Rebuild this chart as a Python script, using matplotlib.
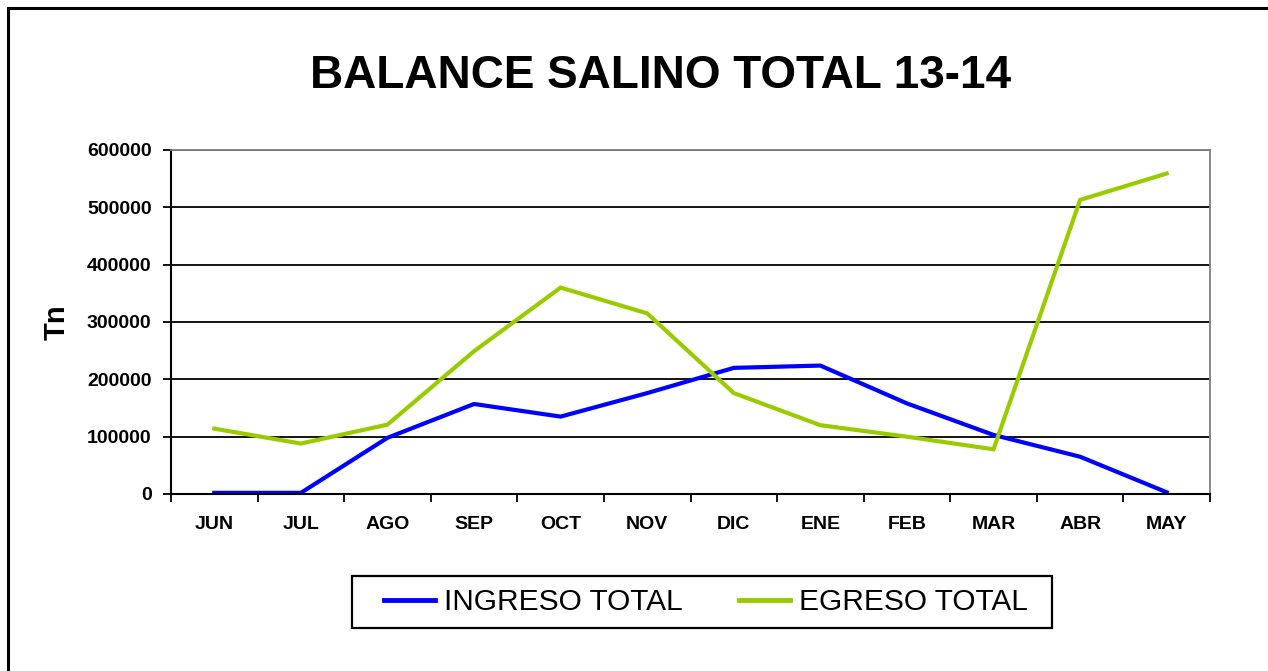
import numpy as np
import matplotlib
matplotlib.use("Agg")
import matplotlib.pyplot as plt
from matplotlib.patches import Rectangle

# datos
meses = ['JUN', 'JUL', 'AGO', 'SEP', 'OCT', 'NOV', 'DIC', 'ENE', 'FEB', 'MAR', 'ABR', 'MAY']
ingreso = [2000, 2000, 98000, 157000, 135000, 176000, 220000, 224000, 158000, 103000, 65000, 3000]
egreso = [114000, 88000, 121000, 249000, 360000, 315000, 176000, 120000, 100000, 78000, 513000, 559000]
yticks = [0, 100000, 200000, 300000, 400000, 500000, 600000]

plt.rcParams['font.family'] = ['Liberation Sans', 'DejaVu Sans']

W, H = 1268, 671
fig = plt.figure(figsize=(W / 100, H / 100), dpi=100)
ax = fig.add_axes([171 / W, 1 - 494 / H, (1210 - 171) / W, (494 - 150) / H])

x = np.arange(len(meses))
ax.plot(x, ingreso, color='#0000FF', lw=3, label='INGRESO TOTAL', solid_joinstyle='miter')
ax.plot(x, egreso, color='#99CC00', lw=3, label='EGRESO TOTAL', solid_joinstyle='miter')

ax.set_xlim(-0.5, len(meses) - 0.5)
ax.set_ylim(0, 600000)
ax.set_yticks(yticks)
ax.set_yticklabels([str(v) for v in yticks], fontsize=14, fontweight='bold')
ax.yaxis.grid(True, color='black', lw=1.3)
ax.set_axisbelow(True)

# ticks del eje x en los limites de categoria, etiquetas al centro
ax.set_xticks(np.arange(-0.5, len(meses), 1))
ax.set_xticklabels([])
ax.set_xticks(x, minor=True)
ax.set_xticklabels(meses, minor=True, fontsize=14, fontweight='bold')
ax.tick_params(axis='x', which='major', length=6, width=1.3, color='black')
ax.tick_params(axis='x', which='minor', length=0, pad=16)
ax.tick_params(axis='y', length=6, width=1.3, pad=8)

for s in ['top', 'right']:
    ax.spines[s].set_color('#808080')
    ax.spines[s].set_linewidth(1.3)
for s in ['left', 'bottom']:
    ax.spines[s].set_color('black')
    ax.spines[s].set_linewidth(1.5)

ax.set_ylabel('Tn', fontsize=21, fontweight='bold', labelpad=12)

fig.text(661 / W, 1 - 76 / H, 'BALANCE SALINO TOTAL 13-14', ha='center', va='center',
         fontsize=33, fontweight='bold')

leg = fig.legend(loc='center', bbox_to_anchor=(706 / W, 1 - 602 / H), ncol=2,
                 fontsize=21.5, frameon=False,
                 handlelength=1.7, handletextpad=0.3, columnspacing=1.9,
                 borderpad=0, borderaxespad=0)
for h in leg.get_lines():
    h.set_linewidth(3.5)

# caja de la leyenda
fig.patches.append(Rectangle((352 / W, 1 - 628 / H), 700 / W, 52 / H,
                             transform=fig.transFigure, fill=False, edgecolor='black',
                             lw=1.6, figure=fig))

# marco exterior
fig.patches.append(Rectangle((7.5 / W, -0.1), 1.2, 1 - 7.5 / H + 0.1,
                             transform=fig.transFigure, fill=False, edgecolor='black',
                             lw=2.2, figure=fig))

fig.savefig('out.png', dpi=100)
